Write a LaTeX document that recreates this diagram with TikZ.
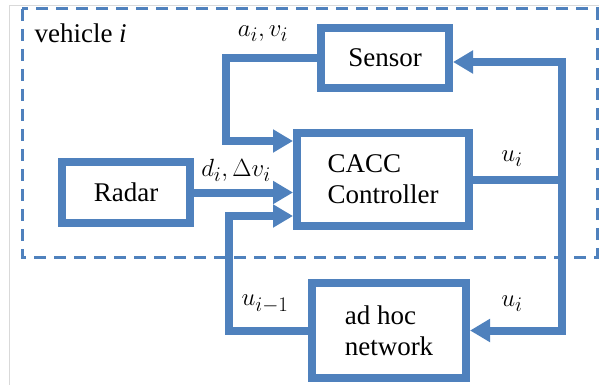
\documentclass[tikz,border=0pt]{standalone}
\usepackage{amsmath}
\usepackage{fontspec}
\setmainfont{Liberation Serif}
\usetikzlibrary{calc,arrows.meta}
\definecolor{blockblue}{RGB}{79,129,189}

\begin{document}
\begin{tikzpicture}[x=1pt,y=-1pt,>={Triangle[length=20pt,width=22pt]}]
  % Configurable parameters
  \def\lw{8pt}              % Line width of blocks and signals
  \newcommand{\blocktext}{\fontsize{27}{31}\selectfont}
  \newcommand{\siglabels}{\fontsize{30}{34}\selectfont}
  \tikzset{
    block/.style={draw=blockblue,line width=\lw,fill=white,
      inner sep=0pt,font=\blocktext},
    signal/.style={draw=blockblue,line width=\lw},
  }
  %
  \useasboundingbox (0,0) rectangle (599,385);
  % Frame of the screenshot
  \draw[black!15,line width=1pt] (9,385) -- (9,6) -- (599,6);
  % Vehicle boundary
  \draw[blockblue,line width=3pt,dash pattern=on 12pt off 8pt]
    (22,9) rectangle (597,257);
  \node[right,font=\blocktext] (veh) at (31,33) {vehicle \textit{i}};
  %
  % Blocks
  \node[block,minimum width=128pt,minimum height=60pt] (sensor)
    at (385,58) {Sensor};
  \node[block,minimum width=172pt,minimum height=93pt,align=left] (cacc)
    at (383,179.5) {CACC\\Controller};
  \node[block,minimum width=128pt,minimum height=61pt] (radar)
    at (126,192.5) {Radar};
  \node[block,minimum width=154pt,minimum height=95pt,align=left] (adhoc)
    at (389,330.5) {ad hoc\\network};
  %
  % Corners of the signal lines
  \coordinate (av) at (226,141);
  \coordinate (ur) at (562,62);
  \coordinate (ul) at (229,216);
  %
  % Signals
  \draw[signal,->] (sensor.west) -| (av) -- (av -| cacc.west);
  \draw[signal,->] (radar.east) -- (radar.east -| cacc.west);
  \draw[signal,->] (cacc.east) -| (ur) -- (ur -| sensor.east);
  \draw[signal,->] (ur) |- (adhoc.east);
  \draw[signal,->] (adhoc.west) -| (ul) -- (ul -| cacc.west);
  %
  % Labels
  \node[font=\siglabels] (lav) at (263,34) {$a_i,v_i$};
  \node[font=\siglabels] (ldv) at (236,170) {$d_i,\Delta v_i$};
  \node[font=\siglabels] (lui) at (512,159) {$u_i$};
  \node[font=\siglabels] (luo) at (512,304) {$u_i$};
  \node[font=\siglabels] (lup) at (265,304) {$u_{i-1}$};
  %
\end{tikzpicture}
\end{document}
